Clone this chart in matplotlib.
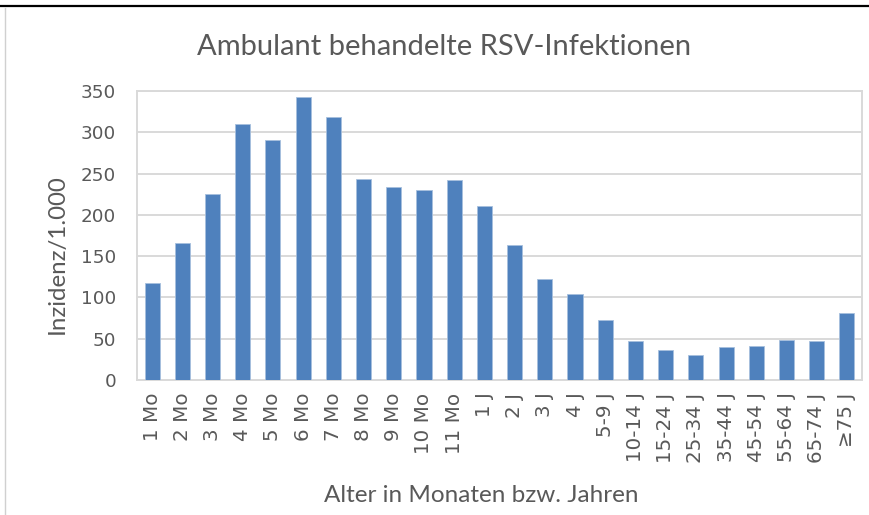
import matplotlib
matplotlib.use('Agg')
import matplotlib.pyplot as plt
from matplotlib.lines import Line2D
import numpy as np

# data
categories = ['1 Mo', '2 Mo', '3 Mo', '4 Mo', '5 Mo', '6 Mo', '7 Mo', '8 Mo',
              '9 Mo', '10 Mo', '11 Mo', '1 J', '2 J', '3 J', '4 J', '5-9 J',
              '10-14 J', '15-24 J', '25-34 J', '35-44 J', '45-54 J',
              '55-64 J', '65-74 J', '≥75 J']
incidence = [118, 166, 225, 310, 291, 343, 318, 244, 234, 230, 242, 211,
             164, 122, 104, 73, 47, 36, 30, 40, 41, 48, 47, 81]
y_ticks = [0, 50, 100, 150, 200, 250, 300, 350]

TEXT = '#595959'
GRID = '#D9D9D9'
BAR = '#4F81BD'

plt.rcParams['font.family'] = ['Lato', 'DejaVu Sans']

fig = plt.figure(figsize=(8.69, 5.15), dpi=100)
ax = fig.add_axes([137 / 869, 1 - 380 / 515, 725 / 869, 289 / 515])

x = np.arange(len(categories))
ax.bar(x, incidence, width=0.5, color=BAR, edgecolor='#A7C0DE', linewidth=0.6, zorder=3)

ax.set_xlim(-0.5, len(categories) - 0.5)
ax.set_ylim(0, 350)
ax.set_yticks(y_ticks)
ax.set_xticks(x)
ax.set_xticklabels(categories, rotation=90, va='top', ha='center')
# tick labels in a wider face than the titles, like the source
ax.tick_params(axis='both', length=0, colors=TEXT, labelfontfamily='DejaVu Sans')
ax.tick_params(axis='x', pad=9, labelsize=14.3)
ax.tick_params(axis='y', pad=15, labelsize=13.2)
ax.grid(axis='y', color=GRID, linewidth=1.4, zorder=0)
for s in ax.spines.values():
    s.set_color(GRID)
    s.set_linewidth(1.4)

fig.text(57 / 869, 1 - 254 / 515, 'Inzidenz/1.000', fontsize=17.3, color=TEXT,
         rotation=90, ha='center', va='center')
fig.text(481 / 869, 1 - 495 / 515, 'Alter in Monaten bzw. Jahren', fontsize=17.5,
         color=TEXT, ha='center', va='center')
fig.text(444 / 869, 1 - 47 / 515, 'Ambulant behandelte RSV-Infektionen', fontsize=21,
         color=TEXT, ha='center', va='center')

# frame bits from the screenshot
fig.add_artist(Line2D([0, 1], [1 - 5.5 / 515, 1 - 5.5 / 515], color='black', linewidth=1.6))
fig.add_artist(Line2D([5 / 869, 5 / 869], [0, 1 - 8 / 515], color='#D0D0D0', linewidth=1.0))

fig.savefig('out.png', dpi=100)
